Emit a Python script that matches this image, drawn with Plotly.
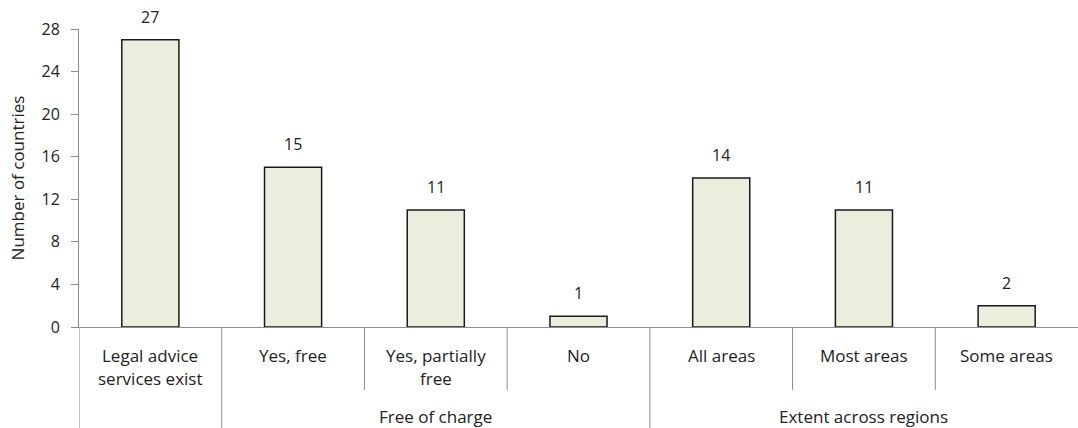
import plotly.graph_objects as go

categories = ["Legal advice<br>services exist", "Yes, free", "Yes, partially<br>free", "No",
              "All areas", "Most areas", "Some areas"]
groups = ["", "Free of charge", "Free of charge", "Free of charge",
          "Extent across regions", "Extent across regions", "Extent across regions"]
counts = [27, 15, 11, 1, 14, 11, 2]
y_ticks = [0, 4, 8, 12, 16, 20, 24, 28]

font_family = "Open Sans"
text_col = "#222222"
line_col = "#8c8c8c"
bar_fill = "#ebeedc"

xs = list(range(len(categories)))

fig = go.Figure(go.Bar(
    x=xs, y=counts, width=0.4,
    marker=dict(color=bar_fill, line=dict(color="#1a1a1a", width=1.5)),
    hoverinfo="skip",
))

# value labels above bars
annotations = []
for x, v in zip(xs, counts):
    annotations.append(dict(x=x, y=v, xref="x", yref="y", text=str(v), showarrow=False,
                            yanchor="bottom", yshift=10, font=dict(size=16, color=text_col)))

# category labels, one annotation per line
line_y = [-0.094, -0.174]
for x, lab in zip(xs, categories):
    for k, part in enumerate(lab.split("<br>")):
        annotations.append(dict(x=x, y=line_y[k], xref="x", yref="paper", text=part,
                                showarrow=False, yanchor="middle",
                                font=dict(size=17, color=text_col)))

# group labels
seen = []
for g in groups:
    if g and g not in seen:
        seen.append(g)
for g in seen:
    idx = [i for i, gg in enumerate(groups) if gg == g]
    annotations.append(dict(x=(idx[0] + idx[-1]) / 2, y=-0.302, xref="x", yref="paper", text=g,
                            showarrow=False, yanchor="middle", font=dict(size=17, color=text_col)))

# separators in the category axis
shapes = [dict(type="line", xref="x", yref="paper", x0=-0.5, x1=-0.5, y0=0, y1=-0.34,
               line=dict(color=line_col, width=1))]
for i in range(len(categories) - 1):
    full = groups[i] != groups[i + 1]
    shapes.append(dict(type="line", xref="x", yref="paper", x0=i + 0.5, x1=i + 0.5,
                       y0=0, y1=-0.34 if full else -0.211,
                       line=dict(color=line_col, width=1)))

fig.update_layout(
    width=1078, height=428,
    margin=dict(l=79, r=0, t=29, b=101),
    plot_bgcolor="white", paper_bgcolor="white",
    font=dict(family=font_family, size=16, color=text_col),
    showlegend=False,
    annotations=annotations,
    shapes=shapes,
    xaxis=dict(range=[-0.5, 6.5], showline=True, linecolor=line_col, linewidth=1,
               showticklabels=False, ticks="", showgrid=False, zeroline=False,
               fixedrange=True, automargin=False),
    yaxis=dict(range=[0, 28], tickvals=y_ticks, showline=True, linecolor=line_col, linewidth=1,
               ticks="outside", ticklen=7, tickcolor=line_col, ticklabelstandoff=8,
               showgrid=False, zeroline=False, automargin=False,
               tickfont=dict(size=16, color=text_col),
               title=dict(text="Number of countries", font=dict(size=17, color=text_col), standoff=12)),
)

# drop the default 8px page margin so the figure sits at the window's corner
fig.write_html("out.html", config={"displayModeBar": False},
               post_script="document.body.style.margin='0';")
